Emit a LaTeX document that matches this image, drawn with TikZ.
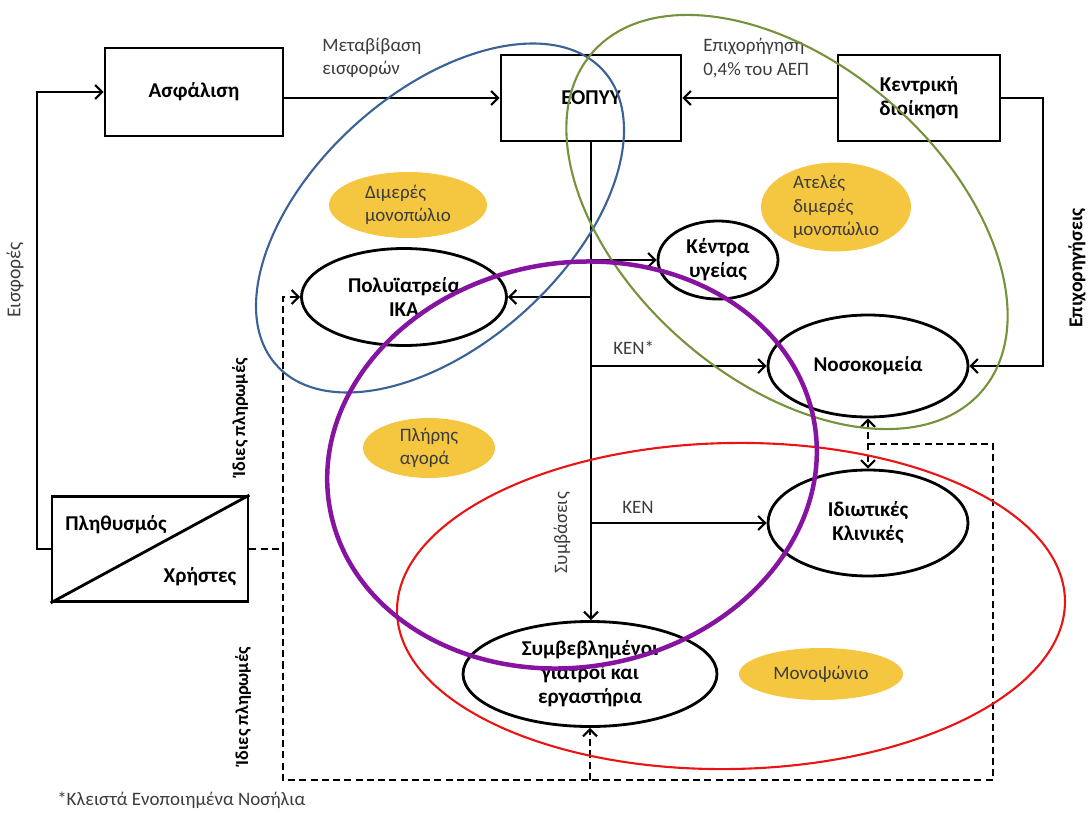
\documentclass[tikz,border=0pt]{standalone}
\usepackage{fontspec}
\setmainfont{Carlito}
\usepackage{tikz}
\usetikzlibrary{shapes.geometric,arrows.meta,positioning}
\definecolor{gold}{RGB}{245,198,64}
\definecolor{ringblue}{RGB}{58,98,150}
\definecolor{ringgreen}{RGB}{118,146,60}
\definecolor{ringpurple}{RGB}{135,20,160}
\definecolor{ringred}{RGB}{235,20,20}
\definecolor{txtgray}{RGB}{60,60,60}

\begin{document}
\begin{tikzpicture} [
      x = 0.25mm, y = -0.25mm,
      >={Straight Barb[length=5pt,width=10pt]},
      box/.style = { draw, line width=2pt, inner sep=0, align=center,
                     font=\fontsize{15}{17}\selectfont\bfseries },
      ell/.style = { draw, ellipse, line width=2pt, inner sep=0, align=center,
                     font=\fontsize{15}{17}\selectfont\bfseries },
      blob/.style = { ellipse, fill=gold, inner sep=0, align=left, text=txtgray,
                      font=\fontsize{13.5}{16.5}\selectfont },
      lbl/.style = { inner sep=0, align=left, text=txtgray,
                     font=\fontsize{13.5}{16.5}\selectfont },
      blbl/.style = { inner sep=0, font=\fontsize{14}{16}\selectfont\bfseries },
      conn/.style = { ->, line width=1.5pt },
      dconn/.style = { line width=1.5pt, dash pattern=on 5pt off 3pt },
      ring/.style = { line width=1.5pt }
      ]
    \useasboundingbox (0,0) rectangle (1092,812);

    % boxes
    \node [box, minimum width=44.5mm, minimum height=22mm] (asf) at (194,92) {Ασφάλιση};
    \node [box, minimum width=45mm, minimum height=21.5mm] (eopyy) at (591,98) {ΕΟΠΥΥ};
    \node [box, minimum width=40.5mm, minimum height=21.5mm] (kentr) at (919,98) {Κεντρική\\διοίκηση};
    \node [box, minimum width=49mm, minimum height=26.25mm] (plith) at (150,549) {};
    \draw [line width=2pt] (plith.south west) -- (plith.north east);
    \node [blbl, font=\fontsize{15}{17}\selectfont\bfseries] (plithos) at (116,525) {Πληθυσμός};
    \node [blbl, font=\fontsize{15}{17}\selectfont\bfseries] (xrist) at (200,577) {Χρήστες};

    % providers
    \node [ell, minimum width=51.25mm, minimum height=24.25mm] (poly) at (404,297) {Πολυϊατρεία\\ΙΚΑ};
    \node [ell, minimum width=30mm, minimum height=19.5mm] (kentra) at (718,260) {Κέντρα\\υγείας};
    \node [ell, minimum width=50mm, minimum height=25.5mm] (nosok) at (868,366) {Νοσοκομεία};
    \node [ell, minimum width=50mm, minimum height=26.5mm] (idiot) at (868,523) {Ιδιωτικές\\Κλινικές};
    \node [ell, minimum width=63.5mm, minimum height=26.25mm] (symv) at (590,674) {Συμβεβλημένοι\\γιατροί και\\εργαστήρια};

    % market types
    \node [blob, minimum width=39.5mm, minimum height=16.5mm] (dim) at (408,205) {Διμερές\\μονοπώλιο};
    \node [blob, minimum width=37.5mm, minimum height=21.5mm] (atel) at (836,207) {Ατελές\\διμερές\\μονοπώλιο};
    \node [blob, minimum width=33mm, minimum height=15mm] (plir) at (429,448) {Πλήρης\\αγορά};
    \node [blob, minimum width=41mm, minimum height=13mm] (mono) at (821,674) {Μονοψώνιο};

    % labels
    \node [lbl, anchor=west] (metav) at (322,58) {Μεταβίβαση\\εισφορών};
    \node [lbl, anchor=west] (epix) at (703,58) {Επιχορήγηση\\0,4\% του ΑΕΠ};
    \node [blbl, rotate=90] (epixs) at (1077,268) {Επιχορηγήσεις};
    \node [lbl, rotate=90, font=\fontsize{14}{16}\selectfont] (eisf) at (15,280) {Εισφορές};
    \node [blbl, rotate=90, font=\fontsize{13}{15}\selectfont\bfseries] (idia) at (240,417) {Ίδιες πληρωμές};
    \node [blbl, rotate=90, font=\fontsize{13}{15}\selectfont\bfseries] (idib) at (243,706) {Ίδιες πληρωμές};
    \node [lbl, rotate=90] (symb) at (562,533) {Συμβάσεις};
    \node [lbl, anchor=west] (kenst) at (613,348) {ΚΕΝ*};
    \node [lbl, anchor=west] (ken) at (622,507) {ΚΕΝ};
    \node [lbl, anchor=west] (foot) at (57,800) {*Κλειστά Ενοποιημένα Νοσήλια};

    % money flows
    \coordinate (lc) at (37,92);
    \coordinate (rc) at (1043,98);
    \draw [conn] (asf.east |- eopyy.west) -- (eopyy.west);
    \draw [conn] (kentr.west) -- (eopyy.east);
    \draw [conn] (kentr.east) -- (rc) |- (nosok.east);
    \draw [conn] (plith.west) -| (lc) -- (asf.west);
    \draw [conn] (eopyy.south) -- (eopyy.south |- symv.north);
    \draw [conn] (eopyy.south |- kentra.west) -- (kentra.west);
    \draw [conn] (eopyy.south |- poly.east) -- (poly.east);
    \draw [conn] (eopyy.south |- nosok.west) -- (nosok.west);
    \draw [conn] (eopyy.south |- idiot.west) -- (idiot.west);

    % out of pocket
    \coordinate (dj) at (283,549);
    \coordinate (db) at (993,780);
    \coordinate (dt) at (993,444);
    \draw [dconn] (plith.east) -- (dj);
    \draw [dconn, ->] (dj) |- (poly.west);
    \draw [dconn] (dj) |- (db) -- (dt) -- (nosok.south |- dt);
    \draw [dconn, <->] (nosok.south) -- (idiot.north);
    \draw [dconn, ->] (symv.south |- db) -- (symv.south);

    % market areas
    \draw [ring, ringblue, rotate around={42:(440,218)}] (440,218) ellipse [x radius=55mm, y radius=31.5mm];
    \draw [ring, ringgreen, rotate around={-41:(787,222)}] (787,222) ellipse [x radius=64.5mm, y radius=39.5mm];
    \draw [ring, ringred, rotate around={1:(731,606)}] (731,606) ellipse [x radius=83.5mm, y radius=40.75mm];
    \draw [ring, ringpurple, line width=3.2pt, rotate around={10:(572,465)}] (572,465) ellipse [x radius=61.5mm, y radius=50.5mm];
\end{tikzpicture}
\end{document}
